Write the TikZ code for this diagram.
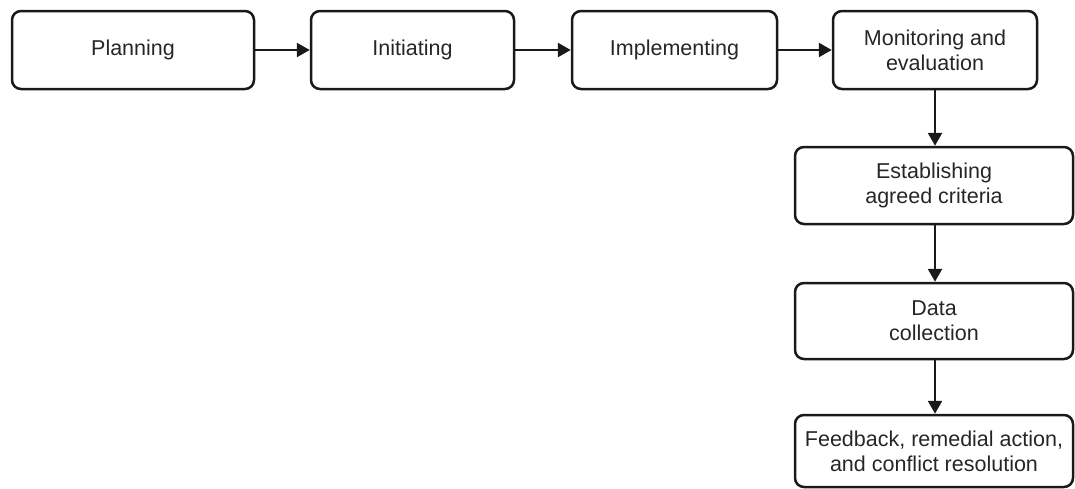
\documentclass[tikz,border=0pt]{standalone}
\usepackage{fontspec}
\setmainfont{Liberation Sans}
\usetikzlibrary{arrows.meta}
\begin{document}
\begin{tikzpicture}[x=1pt,y=-1pt,
  stage/.style={draw=black!90, line width=2.5pt, rounded corners=9pt,
    inner sep=0pt, align=center, text=black!85,
    font=\fontsize{21.5}{25}\selectfont},
  flow/.style={line width=2.5pt, draw=black!90,
    -{Triangle[length=13pt,width=14pt]}}]
\useasboundingbox (0,0) rectangle (1075,488);
\node[stage, minimum width=242pt, minimum height=78pt] (plan) at (133,50) {Planning};
\node[stage, minimum width=203pt, minimum height=78pt] (init) at (412.5,50) {Initiating};
\node[stage, minimum width=205pt, minimum height=78pt] (impl) at (674.5,50) {Implementing};
\node[stage, minimum width=204pt, minimum height=78pt] (mon) at (935,50) {Monitoring and\\evaluation};
\node[stage, minimum width=278pt, minimum height=77pt] (crit) at (934,185.5) {Establishing\\agreed criteria};
\node[stage, minimum width=278pt, minimum height=76pt] (data) at (934,321) {Data\\collection};
\node[stage, minimum width=278pt, minimum height=72pt] (feed) at (934,451) {Feedback, remedial action,\\and conflict resolution};
\draw[flow] (plan) -- (init);
\draw[flow] (init) -- (impl);
\draw[flow] (impl) -- (mon);
\draw[flow] (mon.south) -- (mon.south |- crit.north);
\draw[flow] (mon.south |- crit.south) -- (mon.south |- data.north);
\draw[flow] (mon.south |- data.south) -- (mon.south |- feed.north);
\end{tikzpicture}
\end{document}
